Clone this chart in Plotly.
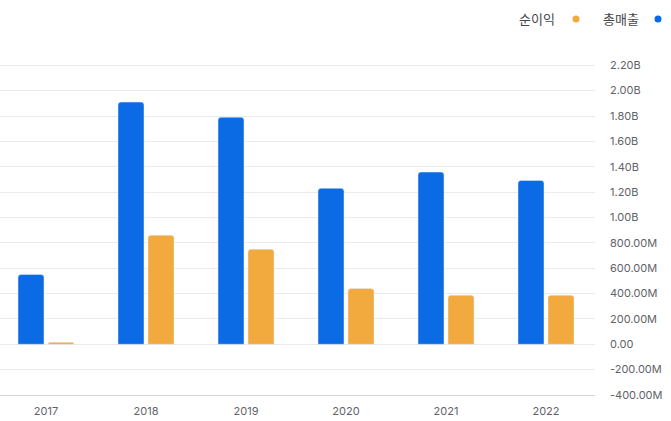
import plotly.graph_objects as go

years = ["2017", "2018", "2019", "2020", "2021", "2022"]
revenue = [5.50e8, 1.91e9, 1.79e9, 1.23e9, 1.358e9, 1.292e9]   # 총매출
net_income = [1.5e7, 8.60e8, 7.50e8, 4.40e8, 3.87e8, 3.87e8]   # 순이익

tick_vals = [2.2e9, 2.0e9, 1.8e9, 1.6e9, 1.4e9, 1.2e9, 1.0e9, 8e8, 6e8, 4e8, 2e8, 0, -2e8, -4e8]
tick_text = ["2.20B", "2.00B", "1.80B", "1.60B", "1.40B", "1.20B", "1.00B",
             "800.00M", "600.00M", "400.00M", "200.00M", "0.00", "-200.00M", "-400.00M"]

BLUE = "#0B6BE4"
ORANGE = "#F2AA3E"
FONT = "Inter, Noto Sans CJK KR, sans-serif"

W, H = 671, 421
ML, MR, MT, MB = 0, 76, 64, 26
PW, PH = W - ML - MR, H - MT - MB

def px_x(p):
    return (p - ML) / PW

def px_y(p):
    return (H - MB - p) / PH

fig = go.Figure()
fig.add_trace(go.Bar(x=years, y=revenue, name="총매출", marker=dict(color=BLUE, cornerradius=3),
                     width=0.26, offset=-0.28, showlegend=False))
fig.add_trace(go.Bar(x=years, y=net_income, name="순이익", marker=dict(color=ORANGE, cornerradius=3),
                     width=0.26, offset=0.02, showlegend=False))

fig.update_layout(
    width=W, height=H,
    margin=dict(l=ML, r=MR, t=MT, b=MB),
    paper_bgcolor="white", plot_bgcolor="white",
    font=dict(family=FONT, size=11, color="#5f6368"),
    barmode="overlay",
)
fig.update_xaxes(type="category", range=[-0.46, 5.49], showgrid=False,
                 showline=True, linecolor="#d3d6de", linewidth=1,
                 ticks="", tickfont=dict(size=11, color="#5f6368"), ticklabelstandoff=6)
fig.update_yaxes(side="right", range=[-4e8, 2.21e9], tickvals=tick_vals, ticktext=tick_text,
                 showgrid=True, gridcolor="#ebebeb", gridwidth=1, zeroline=False,
                 tickfont=dict(size=11, color="#5f6368"), ticklabelstandoff=14)

# custom legend: text followed by dot
legend_items = [("순이익", ORANGE, 557, 576), ("총매출", BLUE, 641, 658)]
for name, color, text_right, dot_x in legend_items:
    fig.add_annotation(x=px_x(text_right), y=px_y(19), xref="paper", yref="paper",
                       xanchor="right", yanchor="middle", showarrow=False,
                       text=name, font=dict(family=FONT, size=13, color="#44474b"))
    fig.add_shape(type="circle", xref="paper", yref="paper",
                  x0=px_x(dot_x - 3.5), x1=px_x(dot_x + 3.5),
                  y0=px_y(19 + 3.5), y1=px_y(19 - 3.5),
                  fillcolor=color, line=dict(width=0))

fig.write_html("out.html")
